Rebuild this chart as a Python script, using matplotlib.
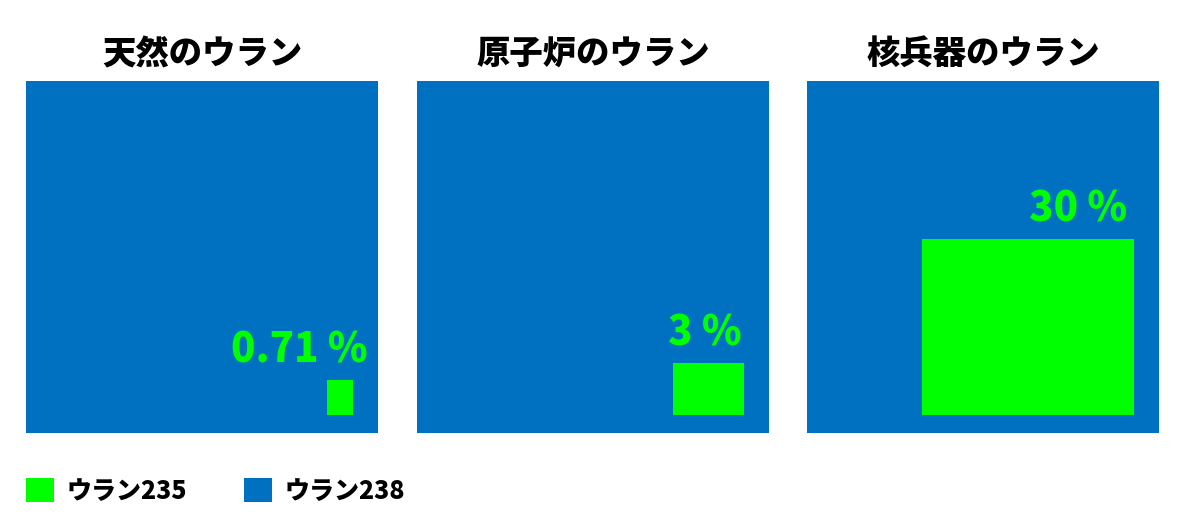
import numpy as np
import matplotlib.pyplot as plt
from matplotlib.patches import Rectangle, Patch

plt.rcParams['font.family'] = ['Noto Sans CJK JP', 'DejaVu Sans']

# data
titles = ['天然のウラン', '原子炉のウラン', '核兵器のウラン']
u235_pct = [0.71, 3, 30]
labels = ['0.71 %', '3 %', '30 %']
legend_labels = ['ウラン235', 'ウラン238']

# style
green = '#00FF00'
blue = '#0070C0'
rect_aspect = [0.72, 1.35, 1.2]   # width / height of the green box
label_right = [0.969, 0.921, 0.91]
right_gap = 0.072
bottom_gap = 0.05

fig = plt.figure(figsize=(12, 5.29), dpi=100)
lefts = [26 / 1200, 417 / 1200, 807 / 1200]
for i, left in enumerate(lefts):
    ax = fig.add_axes([left, 96 / 529, 352 / 1200, 352 / 529])
    ax.set_xlim(0, 1)
    ax.set_ylim(0, 1)
    ax.add_patch(Rectangle((0, 0), 1, 1, color=blue, lw=0))
    side = np.sqrt(u235_pct[i] / 100)
    w = side * np.sqrt(rect_aspect[i])
    h = side / np.sqrt(rect_aspect[i])
    x0 = 1 - right_gap - w
    ax.add_patch(Rectangle((x0, bottom_gap), w, h, color=green, lw=0))
    ax.text(label_right[i], bottom_gap + h + 0.025, labels[i],
            ha='right', va='bottom', color=green, fontsize=29, fontweight='black')
    ax.set_title(titles[i], fontsize=24, fontweight='black', pad=12)
    ax.axis('off')

handles = [Patch(color=green, lw=0), Patch(color=blue, lw=0)]
fig.legend(handles, legend_labels, loc='center left', bbox_to_anchor=(0.003, 0.072),
           ncol=2, frameon=False, prop={'size': 18, 'weight': 'black'},
           handlelength=1.1, handleheight=1.1, handletextpad=0.5, columnspacing=2.3)

fig.savefig('out.png', dpi=100)
